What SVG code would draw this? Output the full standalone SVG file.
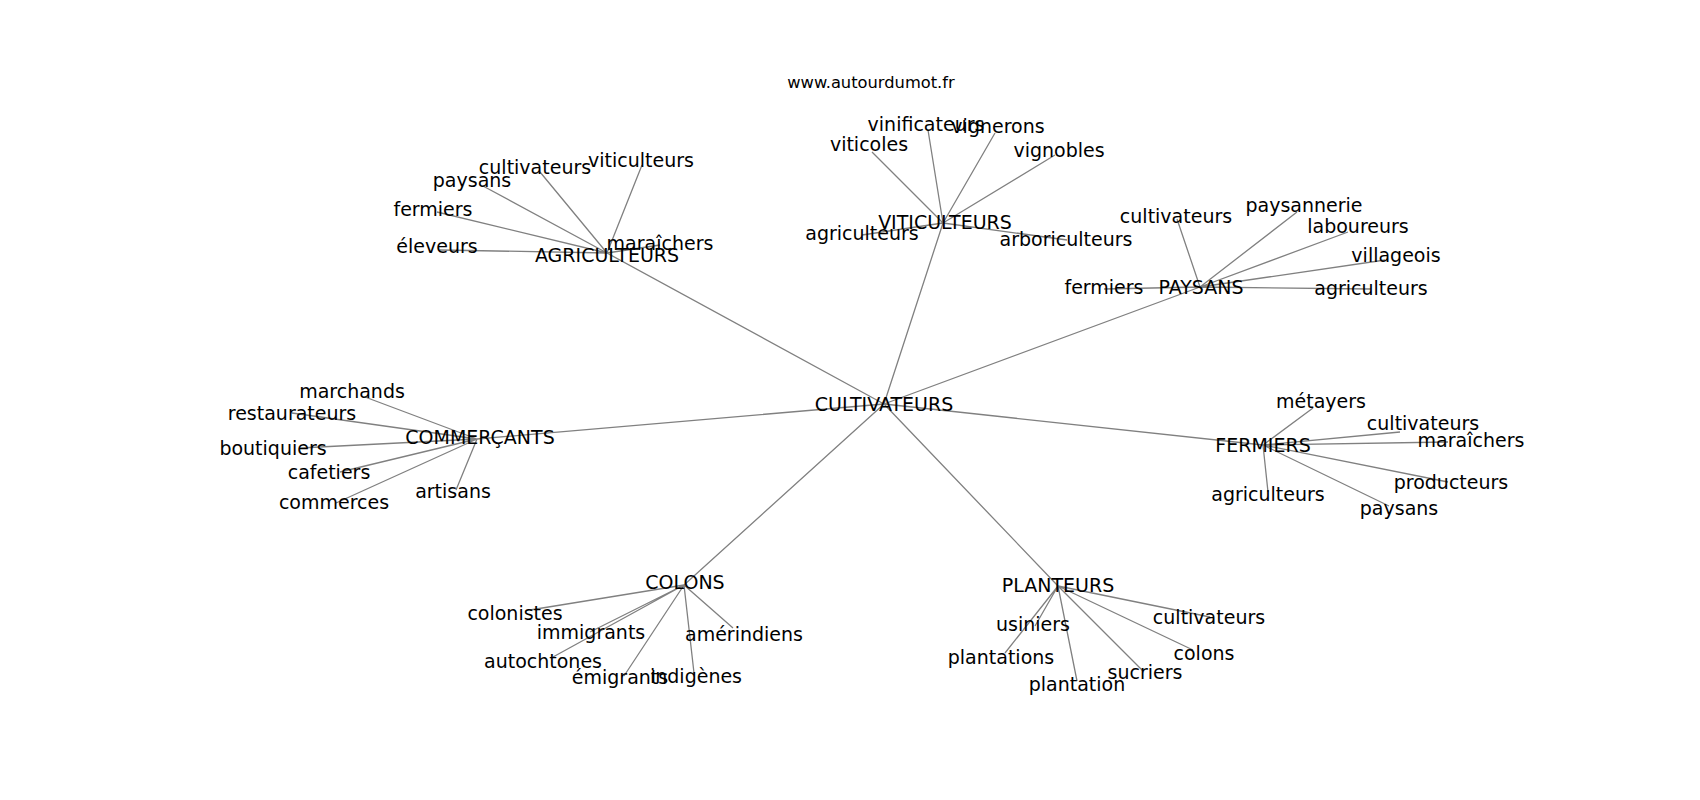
<svg xmlns="http://www.w3.org/2000/svg" width="1700" height="800" viewBox="0 0 1700 800">
<style>
.e{stroke:#808080;stroke-width:1.3;fill:none}
text{font-family:"DejaVu Sans","Liberation Sans",sans-serif;font-size:19px;fill:#000;text-anchor:middle}
.t{font-size:16.3px}
</style>
<rect width="1700" height="800" fill="#fff"/>
<g id="edges">
<path class="e" d="M884,404L607,253M884,404L943,223M884,404L1200,287M884,404L477,439M884,404L1263,445M884,404L684,585M884,404L1058,586"/>
<path class="e" d="M607,253L642,165M607,253L540,172M607,253L483,186M607,253L437,212M607,253L440,250M607,253L660,245"/>
<path class="e" d="M943,223L928,130M943,223L995,133M943,223L872,152M943,223L1055,155M943,223L862,235M943,223L1067,240"/>
<path class="e" d="M1200,287L1177,219M1200,287L1297,212M1200,287L1348,232M1200,287L1385,260M1200,287L1104,289M1200,287L1371,289"/>
<path class="e" d="M477,439L365,397M477,439L292,413M477,439L300,448M477,439L340,472M477,439L336,503M477,439L456,490"/>
<path class="e" d="M1263,445L1313,408M1263,445L1400,432M1263,445L1448,442M1263,445L1448,482M1263,445L1389,506M1263,445L1268,492"/>
<path class="e" d="M684,585L530,610M684,585L590,632M684,585L553,657M684,585L624,676M684,585L694,673M684,585L733,628"/>
<path class="e" d="M1058,586L1035,626M1058,586L1005,653M1058,586L1077,681M1058,586L1143,671M1058,586L1210,617M1058,586L1193,650"/>
</g>
<text class="t" x="871" y="88">www.autourdumot.fr</text>
<g id="n-cultivateurs"><text x="884" y="411">CULTIVATEURS</text></g>
<g id="n-agriculteurs"><text x="607" y="262">AGRICULTEURS</text>
<text x="641" y="167">viticulteurs</text>
<text x="535" y="174">cultivateurs</text>
<text x="472" y="187">paysans</text>
<text x="433" y="216">fermiers</text>
<text x="437" y="253">éleveurs</text>
<text x="660" y="250">maraîchers</text></g>
<g id="n-viticulteurs"><text x="945" y="229">VITICULTEURS</text>
<text x="926" y="131">vinificateurs</text>
<text x="998" y="133">vignerons</text>
<text x="869" y="151">viticoles</text>
<text x="1059" y="157">vignobles</text>
<text x="862" y="240">agriculteurs</text>
<text x="1066" y="246">arboriculteurs</text></g>
<g id="n-paysans"><text x="1201" y="294">PAYSANS</text>
<text x="1176" y="223">cultivateurs</text>
<text x="1304" y="212">paysannerie</text>
<text x="1358" y="233">laboureurs</text>
<text x="1396" y="262">villageois</text>
<text x="1104" y="294">fermiers</text>
<text x="1371" y="295">agriculteurs</text></g>
<g id="n-commercants"><text x="480" y="444">COMMERÇANTS</text>
<text x="352" y="398">marchands</text>
<text x="292" y="420">restaurateurs</text>
<text x="273" y="455">boutiquiers</text>
<text x="329" y="479">cafetiers</text>
<text x="334" y="509">commerces</text>
<text x="453" y="498">artisans</text></g>
<g id="n-fermiers"><text x="1263" y="452">FERMIERS</text>
<text x="1321" y="408">métayers</text>
<text x="1423" y="430">cultivateurs</text>
<text x="1471" y="447">maraîchers</text>
<text x="1451" y="489">producteurs</text>
<text x="1399" y="515">paysans</text>
<text x="1268" y="501">agriculteurs</text></g>
<g id="n-colons"><text x="685" y="589">COLONS</text>
<text x="515" y="620">colonistes</text>
<text x="591" y="639">immigrants</text>
<text x="543" y="668">autochtones</text>
<text x="620" y="684">émigrants</text>
<text x="696" y="683">indigènes</text>
<text x="744" y="641">amérindiens</text></g>
<g id="n-planteurs"><text x="1058" y="592">PLANTEURS</text>
<text x="1033" y="631">usiniers</text>
<text x="1001" y="664">plantations</text>
<text x="1077" y="691">plantation</text>
<text x="1145" y="679">sucriers</text>
<text x="1209" y="624">cultivateurs</text>
<text x="1204" y="660">colons</text></g>
</svg>
